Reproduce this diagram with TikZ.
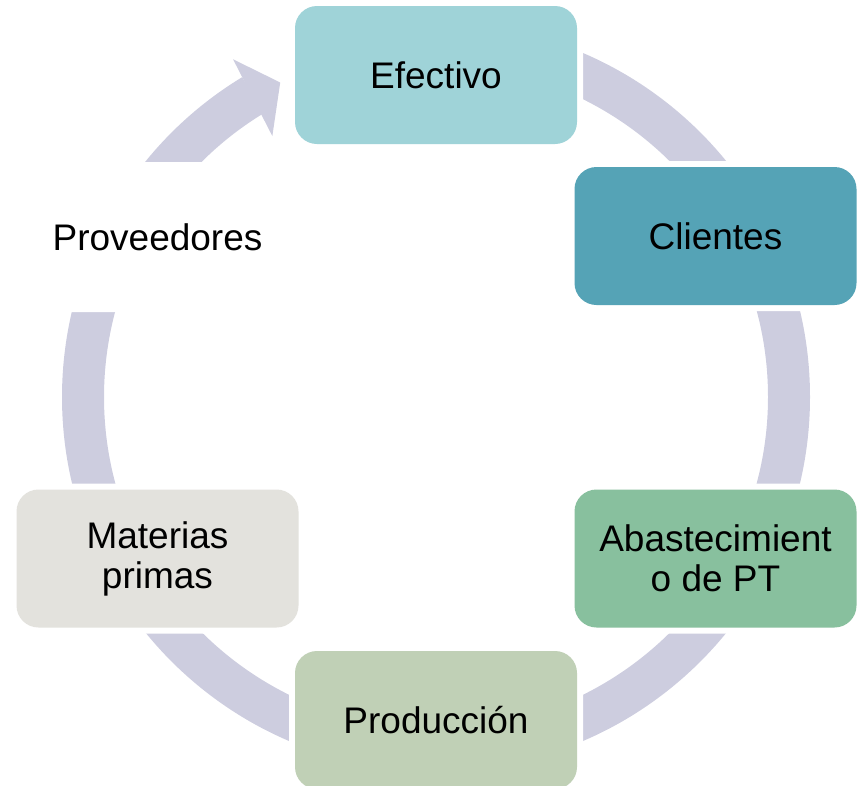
\documentclass[tikz,border=0pt]{standalone}
\usepackage{fontspec}
\setmainfont{Liberation Sans}
\definecolor{ringc}{HTML}{CDCDDF}
\definecolor{efc}{HTML}{9FD3D8}
\definecolor{clc}{HTML}{55A3B6}
\definecolor{abc}{HTML}{88C09E}
\definecolor{prc}{HTML}{C0D0B6}
\definecolor{mac}{HTML}{E3E2DD}
\begin{document}
\begin{tikzpicture}[x=1pt,y=1pt,
  stepbox/.style={rounded corners=22pt, minimum width=282pt, minimum height=138pt,
    inner sep=0pt, align=center, font=\fontsize{37}{40}\selectfont,
    preaction={draw=white, line width=12pt}},
  ring/.style={draw=ringc, line width=42pt, line cap=butt}]
\useasboundingbox (0,0) rectangle (862,-785);
\coordinate (c) at (436,-397);
% ring
\draw[ring] ([shift={(90:353)}]c) arc[start angle=90, end angle=-238.8, radius=353];
\fill[ringc] ([shift={(121.0:394)}]c) -- ([shift={(116.35:351)}]c) -- ([shift={(122.1:308)}]c) -- cycle;
% boxes
\node[stepbox, fill=efc] (ef) at (436,-75) {Efectivo};
\node[stepbox, fill=clc] (cl) at (715.5,-236) {Clientes};
\node[stepbox, fill=abc] (ab) at (715.5,-558.5) {Abastecimient\\o de PT};
\node[stepbox, fill=prc] (pr) at (436,-720) {Producción};
\node[stepbox, fill=mac] (ma) at (157.5,-558.5) {Materias\\primas};
\node[stepbox, fill=white] (pv) at (157.5,-237) {Proveedores};
\end{tikzpicture}
\end{document}
